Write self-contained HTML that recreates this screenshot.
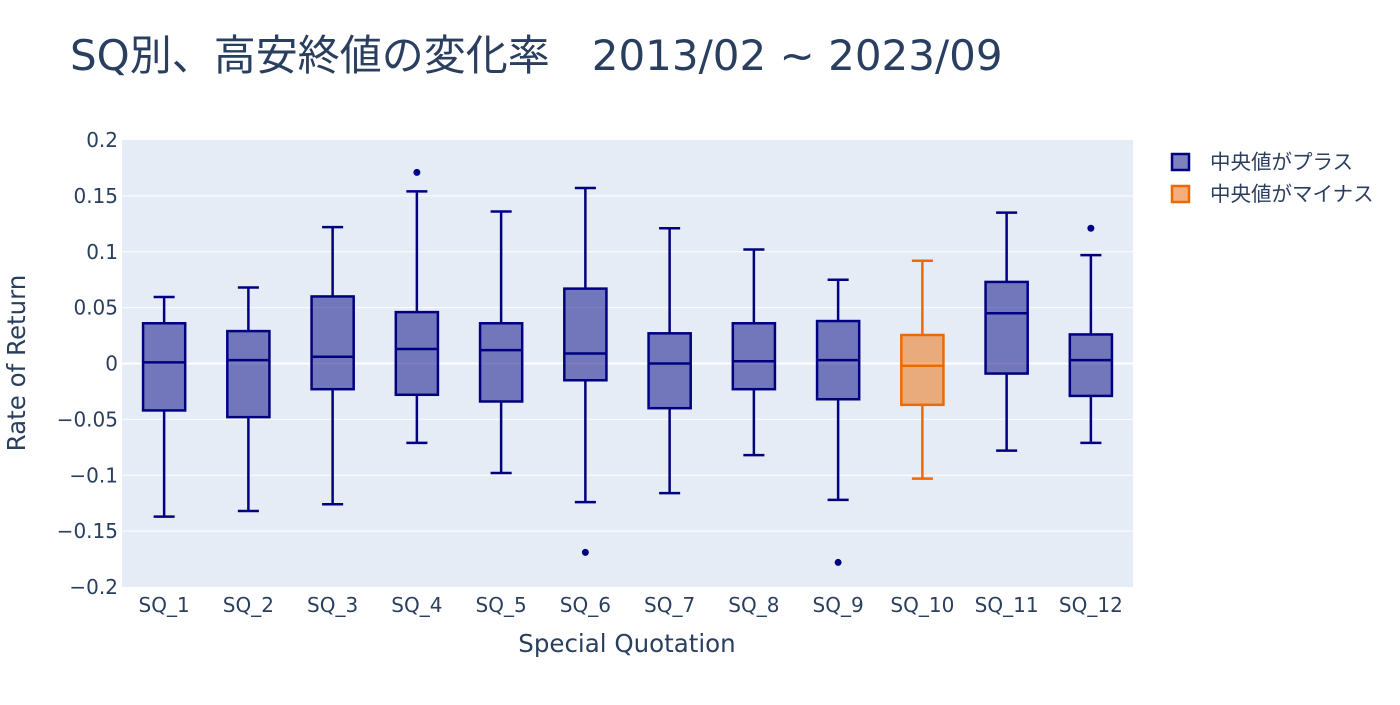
<!DOCTYPE html>
<html><head><meta charset="utf-8"><style>
html,body{margin:0;padding:0;background:#fff;}
svg text{font-family:"DejaVu Sans","Noto Sans CJK JP",sans-serif;fill:#2a3f5f;}
</style></head><body>
<svg id="chart" width="1400" height="700" xmlns="http://www.w3.org/2000/svg">
<text x="70" y="70" font-size="42">SQ別、高安終値の変化率　2013/02 ~ 2023/09</text>
<rect x="122" y="140" width="1011" height="447" fill="#E5ECF6"/>
<g id="grid"></g><g id="boxes"></g><g id="ticks"></g>
<text x="627" y="652" font-size="24.5" text-anchor="middle">Special Quotation</text>
<text transform="translate(25,363) rotate(-90)" font-size="24.5" text-anchor="middle">Rate of Return</text>
<g>
<g><rect x="1172" y="154" width="17" height="16" fill="#7f80bf" stroke="#000080" stroke-width="2.5"/><text x="1210" y="169" font-size="20.5">中央値がプラス</text></g>
<g><rect x="1172" y="186" width="17" height="16" fill="#f5ae7f" stroke="#ee6a00" stroke-width="2.5"/><text x="1210" y="201" font-size="20.5">中央値がマイナス</text></g>
</g>
</svg>
<script>
const categories=["SQ_1","SQ_2","SQ_3","SQ_4","SQ_5","SQ_6","SQ_7","SQ_8","SQ_9","SQ_10","SQ_11","SQ_12"];
const lowW=[-0.137,-0.132,-0.126,-0.071,-0.098,-0.124,-0.116,-0.082,-0.122,-0.103,-0.078,-0.071];
const q1=[-0.042,-0.048,-0.023,-0.028,-0.034,-0.015,-0.040,-0.023,-0.032,-0.037,-0.009,-0.029];
const median=[0.001,0.003,0.006,0.013,0.012,0.009,0.000,0.002,0.003,-0.002,0.045,0.003];
const q3=[0.036,0.029,0.060,0.046,0.036,0.067,0.027,0.036,0.038,0.0255,0.073,0.026];
const highW=[0.0595,0.068,0.122,0.154,0.136,0.157,0.121,0.102,0.075,0.092,0.135,0.097];
const outliers=[[],[],[],[0.171],[],[-0.169],[],[],[-0.178],[],[],[0.121]];
const yTicks=[0.2,0.15,0.1,0.05,0,-0.05,-0.1,-0.15,-0.2];
const yTickLabels=["0.2","0.15","0.1","0.05","0","−0.05","−0.1","−0.15","−0.2"];
const NS="http://www.w3.org/2000/svg";
const X0=122,W=1011,Y0=140,H=447;
function yS(v){return Y0+(0.2-v)/0.4*H;}
function xS(i){return X0+(i+0.5)*W/categories.length;}
function mk(tag,attrs,parent){const e=document.createElementNS(NS,tag);for(const k in attrs)e.setAttribute(k,attrs[k]);parent.appendChild(e);return e;}
const grid=document.getElementById('grid'),ticks=document.getElementById('ticks'),boxes=document.getElementById('boxes');
yTicks.forEach((t,i)=>{
  const y=yS(t);
  if(t!==0.2&&t!==-0.2){const l=mk('line',{x1:X0,x2:X0+W,y1:y,y2:y,stroke:'#fff','stroke-width':t===0?2:1},grid);
  
  }
  const tx=mk('text',{x:X0-4,y:y+7,'font-size':20,'text-anchor':'end'},ticks);
  tx.textContent=yTickLabels[i];
  
  
});
const bw=W/categories.length*0.5;
categories.forEach((c,i)=>{
  const cx=xS(i);
  const neg=median[i]<0;
  const line=neg?'#ee6a00':'#000080',fill=neg?'rgba(238,106,0,0.5)':'rgba(0,0,128,0.5)';
  const g=mk('g',{},boxes);
  
  
  mk('line',{x1:cx,x2:cx,y1:yS(highW[i]),y2:yS(q3[i]),stroke:line,'stroke-width':2.5},g);
  mk('line',{x1:cx,x2:cx,y1:yS(q1[i]),y2:yS(lowW[i]),stroke:line,'stroke-width':2.5},g);
  mk('line',{x1:cx-bw/4,x2:cx+bw/4,y1:yS(highW[i]),y2:yS(highW[i]),stroke:line,'stroke-width':2.5},g);
  mk('line',{x1:cx-bw/4,x2:cx+bw/4,y1:yS(lowW[i]),y2:yS(lowW[i]),stroke:line,'stroke-width':2.5},g);
  mk('rect',{x:cx-bw/2,y:yS(q3[i]),width:bw,height:yS(q1[i])-yS(q3[i]),fill:fill,stroke:line,'stroke-width':2.5},g);
  mk('line',{x1:cx-bw/2,x2:cx+bw/2,y1:yS(median[i]),y2:yS(median[i]),stroke:line,'stroke-width':2.5},g);
  outliers[i].forEach(o=>{const p=mk('circle',{cx:cx,cy:yS(o),r:3.5,fill:line},g);
    
    });
  const tx=mk('text',{x:cx,y:Y0+H+25,'font-size':20,'text-anchor':'middle'},ticks);
  tx.textContent=c;
  
  
});
</script>
</body></html>
